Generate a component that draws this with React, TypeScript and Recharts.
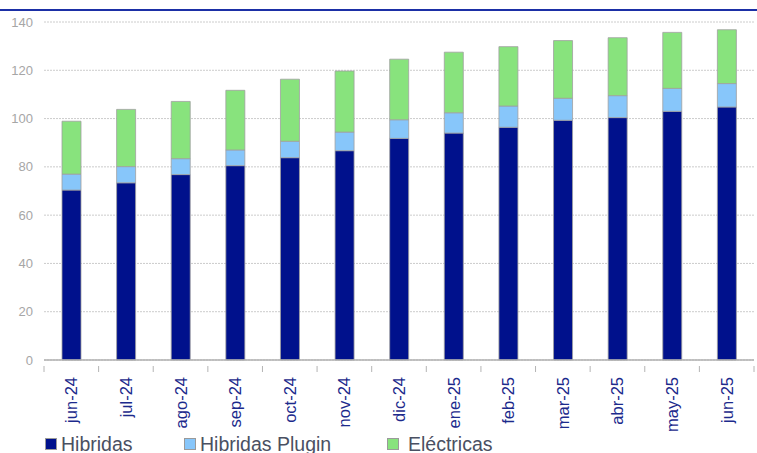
import React from 'react';
import { BarChart, Bar, XAxis, YAxis, CartesianGrid, Legend } from 'recharts';

document.body.style.margin = '0';

const months = ['jun-24', 'jul-24', 'ago-24', 'sep-24', 'oct-24', 'nov-24', 'dic-24', 'ene-25', 'feb-25', 'mar-25', 'abr-25', 'may-25', 'jun-25'];
const hibridas = [70.4, 73.4, 76.8, 80.5, 83.8, 86.7, 91.8, 94.0, 96.4, 99.3, 100.4, 103.0, 104.8];
const plugin = [6.6, 6.7, 6.6, 6.5, 6.8, 7.7, 7.7, 8.4, 8.8, 9.1, 9.1, 9.5, 9.7];
const electricas = [21.9, 23.7, 23.7, 24.7, 25.7, 25.3, 25.1, 25.1, 24.6, 23.9, 24.0, 23.2, 22.3];
const yTicks = [0, 20, 40, 60, 80, 100, 120, 140];

const series = [
    { key: 'hibridas', name: 'Hibridas', color: '#00118c', left: 45 },
    { key: 'plugin', name: 'Hibridas Plugin', color: '#87c6fa', left: 184 },
    { key: 'electricas', name: 'Eléctricas', color: '#88e37d', left: 387 },
];

const data = months.map((m, i) => ({
    month: m,
    hibridas: hibridas[i],
    plugin: plugin[i],
    electricas: electricas[i],
}));

const font = '"Liberation Sans", Arial, sans-serif';

const MonthTick = (props: any) => {
    const { x, y, payload, index } = props;
    const off = payload && payload.offset ? payload.offset : 0;
    return (
        <g>
            {off > 0 && <line x1={x - off} x2={x - off} y1={y - 2} y2={y + 4} stroke="#b4b4b4" />}
            {off > 0 && index === months.length - 1 && (
                <line x1={x + off} x2={x + off} y1={y - 2} y2={y + 4} stroke="#b4b4b4" />
            )}
            <g transform={`translate(${x},${y + 9})`}>
                <text transform="rotate(-90)" textAnchor="end" dominantBaseline="central" fill="#1c2a8c" fontSize={16.5} fontFamily={font}>
                    {payload.value}
                </text>
            </g>
        </g>
    );
};

const renderLegend = () => (
    <div style={{ position: 'relative', width: 757, height: 26, fontFamily: font }}>
        {series.map((s) => (
            <div key={s.key} style={{ position: 'absolute', left: s.left, top: 4, display: 'flex', alignItems: 'center', height: 26 }}>
                <span style={{ display: 'inline-block', width: 12, height: 12, background: s.color, border: '1px solid #9a9a9a', boxSizing: 'border-box' }} />
                <span style={{ marginLeft: s.key === 'electricas' ? 9 : 4, fontSize: 19.5, color: '#4a5062' }}>{s.name}</span>
            </div>
        ))}
    </div>
);

const App: React.FC = () => {
    return (
        <div style={{ position: 'relative', width: 757, height: 453, background: '#fff', overflow: 'hidden' }}>
            <div style={{ position: 'absolute', left: 0, top: 9, width: 757, height: 2, background: '#1b2fa6' }} />
            <BarChart width={757} height={453} data={data} margin={{ top: 22, right: 3, left: 0, bottom: 0 }} barSize={19}>
                <CartesianGrid vertical={false} stroke="#cccccc" strokeDasharray="2 1" />
                <XAxis dataKey="month" height={67} interval={0} tickLine={false} axisLine={{ stroke: '#b0b0b0', strokeWidth: 1.5 }} tick={<MonthTick />} />
                <YAxis width={44} domain={[0, 140]} ticks={yTicks} axisLine={false} tickLine={false} tickMargin={5}
                    tick={{ fill: '#a6a6a6', fontSize: 13, fontFamily: font }} />
                <Legend verticalAlign="bottom" height={26} content={renderLegend} wrapperStyle={{ left: 0, bottom: 0, width: 757 }} />
                {series.map((s) => (
                    <Bar key={s.key} dataKey={s.key} name={s.name} stackId="a" fill={s.color} stroke="#a0a0a0" strokeWidth={0.8} isAnimationActive={false} />
                ))}
            </BarChart>
        </div>
    );
};

export default App;
